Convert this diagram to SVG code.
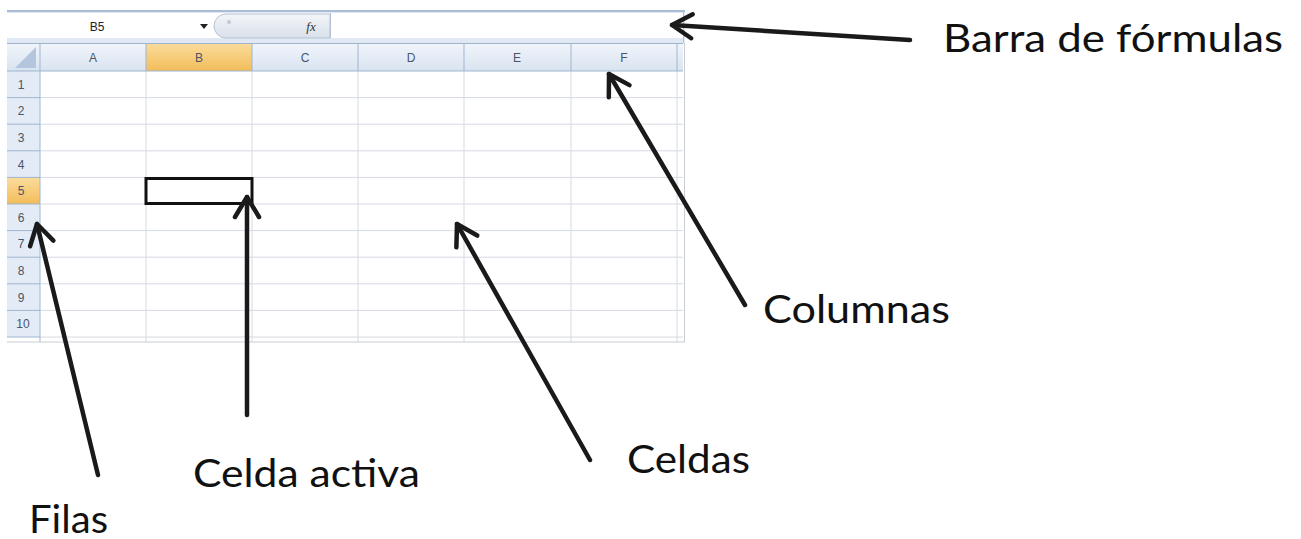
<svg xmlns="http://www.w3.org/2000/svg" width="1301" height="539" viewBox="0 0 1301 539">
<style>
.lbl{font-family:Lato,"Open Sans","Liberation Sans",sans-serif;font-size:39px;fill:#111}
.hd{font-family:"Liberation Sans",Arial,sans-serif;font-size:12px;fill:#4a5566;text-anchor:middle}
.grid{stroke:#d6dae3;stroke-width:1}
.hdb{stroke:#9fb5cf;stroke-width:1}
.arrow{stroke:#1a1a1a;stroke-width:4.5;stroke-linecap:round;fill:none;marker-end:url(#head)}
</style>
<defs>
<marker id="head" markerUnits="userSpaceOnUse" viewBox="-26 -16 30 32" refX="0" refY="0" markerWidth="30" markerHeight="32" orient="auto" overflow="visible">
<path d="M-20,-12 L0,0 L-20,12" fill="none" stroke="#1a1a1a" stroke-width="4.5" stroke-linecap="round" stroke-linejoin="round"/>
</marker>
<linearGradient id="hdrg" x1="0" y1="0" x2="0" y2="1"><stop offset="0" stop-color="#f1f5fb"/><stop offset="1" stop-color="#d9e3f0"/></linearGradient>
<linearGradient id="selg" x1="0" y1="0" x2="0" y2="1"><stop offset="0" stop-color="#fbdc9c"/><stop offset="1" stop-color="#f2bd5a"/></linearGradient>
<linearGradient id="pill" x1="0" y1="0" x2="0" y2="1"><stop offset="0" stop-color="#f3f6fa"/><stop offset="1" stop-color="#d8e0ea"/></linearGradient>
</defs>
<rect width="1301" height="539" fill="#fff"/>
<g id="spreadsheet">
<!-- formula bar -->
<rect x="7" y="10" width="678" height="33" fill="#dfe8f3"/>
<line x1="7" y1="11" x2="685" y2="11" stroke="#a9bed6" stroke-width="2"/>
<rect x="7" y="13" width="676" height="25" fill="#fff"/>
<text x="97" y="31" class="hd" style="fill:#222">B5</text>
<path d="M200,24 L208,24 L204,29 Z" fill="#222"/>
<path d="M226,14 L330,14 L330,38 L226,38 A12,12 0 0 1 226,14 Z" fill="url(#pill)" stroke="#b5c3d4" stroke-width="1"/>
<circle cx="229" cy="22" r="2" fill="#c0c8d2"/>
<text x="311" y="31" style="font-family:'Liberation Serif',serif;font-style:italic;font-size:13px;fill:#333" text-anchor="middle">fx</text>
<line x1="330.5" y1="13" x2="330.5" y2="38" stroke="#b5c3d4"/>
<line x1="683.5" y1="11" x2="683.5" y2="43" stroke="#b5c3d4"/>
<!-- grid body -->
<rect x="7" y="43" width="678" height="299" fill="#fff"/>
<!-- header row -->
<rect x="7" y="43" width="676" height="28" fill="url(#hdrg)"/>
<rect x="146" y="43" width="106" height="28" fill="url(#selg)"/>
<path d="M36,47 L36,68 L15,68 Z" fill="#b3c6de"/>
<!-- row headers -->
<rect x="7" y="71" width="33" height="266" fill="#e3ebf6"/>
<rect x="7" y="177.4" width="33" height="26.6" fill="url(#selg)"/>
<!-- lines -->
<g class="grid">
<line x1="40" y1="97.6" x2="683" y2="97.6"/>
<line x1="40" y1="124.2" x2="683" y2="124.2"/>
<line x1="40" y1="150.8" x2="683" y2="150.8"/>
<line x1="40" y1="177.4" x2="683" y2="177.4"/>
<line x1="40" y1="204" x2="683" y2="204"/>
<line x1="40" y1="230.6" x2="683" y2="230.6"/>
<line x1="40" y1="257.2" x2="683" y2="257.2"/>
<line x1="40" y1="283.8" x2="683" y2="283.8"/>
<line x1="40" y1="310.4" x2="683" y2="310.4"/>
<line x1="40" y1="337" x2="683" y2="337"/>
<line x1="146" y1="71" x2="146" y2="342"/>
<line x1="252" y1="71" x2="252" y2="342"/>
<line x1="358" y1="71" x2="358" y2="342"/>
<line x1="464" y1="71" x2="464" y2="342"/>
<line x1="571" y1="71" x2="571" y2="342"/>
<line x1="677" y1="71" x2="677" y2="342"/>
</g>
<g class="hdb">
<line x1="7" y1="43.5" x2="683" y2="43.5"/>
<line x1="7" y1="71" x2="683" y2="71"/>
<line x1="40" y1="43" x2="40" y2="342"/>
<line x1="146" y1="43" x2="146" y2="71"/>
<line x1="252" y1="43" x2="252" y2="71"/>
<line x1="358" y1="43" x2="358" y2="71"/>
<line x1="464" y1="43" x2="464" y2="71"/>
<line x1="571" y1="43" x2="571" y2="71"/>
<line x1="677" y1="43" x2="677" y2="71"/>
<line x1="7" y1="97.6" x2="40" y2="97.6"/>
<line x1="7" y1="124.2" x2="40" y2="124.2"/>
<line x1="7" y1="150.8" x2="40" y2="150.8"/>
<line x1="7" y1="177.4" x2="40" y2="177.4"/>
<line x1="7" y1="204" x2="40" y2="204"/>
<line x1="7" y1="230.6" x2="40" y2="230.6"/>
<line x1="7" y1="257.2" x2="40" y2="257.2"/>
<line x1="7" y1="283.8" x2="40" y2="283.8"/>
<line x1="7" y1="310.4" x2="40" y2="310.4"/>
<line x1="7" y1="337" x2="40" y2="337"/>
</g>
<line x1="7" y1="342" x2="685" y2="342" stroke="#c8ccd2"/>
<line x1="684.5" y1="43" x2="684.5" y2="342" stroke="#c8ccd2"/>
<text x="93" y="62" class="hd">A</text>
<text x="199" y="62" class="hd">B</text>
<text x="305" y="62" class="hd">C</text>
<text x="411" y="62" class="hd">D</text>
<text x="517" y="62" class="hd">E</text>
<text x="624" y="62" class="hd">F</text>
<text x="21" y="89" class="hd">1</text>
<text x="21" y="115" class="hd">2</text>
<text x="21" y="142" class="hd">3</text>
<text x="21" y="169" class="hd">4</text>
<text x="21" y="195" class="hd">5</text>
<text x="21" y="222" class="hd">6</text>
<text x="21" y="248" class="hd">7</text>
<text x="21" y="275" class="hd">8</text>
<text x="21" y="302" class="hd">9</text>
<text x="23" y="328" class="hd">10</text>
<rect id="active-cell" x="146" y="178.5" width="106" height="25" fill="none" stroke="#111" stroke-width="3"/>
</g>
<g id="connectors">
<path class="arrow" d="M910,40 L672,25"/>
<path class="arrow" d="M745,305 L609,74"/>
<path class="arrow" d="M590,460 L457,224"/>
<path class="arrow" d="M247,415 L247,197"/>
<path class="arrow" d="M98,475 L37,224"/>
</g>
<g id="node-barra"><text class="lbl" x="943" y="52" textLength="340" lengthAdjust="spacingAndGlyphs">Barra de fórmulas</text></g>
<g id="node-columnas"><text class="lbl" x="763" y="323" textLength="187" lengthAdjust="spacingAndGlyphs">Columnas</text></g>
<g id="node-celdas"><text class="lbl" x="627" y="473" textLength="123" lengthAdjust="spacingAndGlyphs">Celdas</text></g>
<g id="node-celda-activa"><text class="lbl" x="193" y="487" textLength="227" lengthAdjust="spacingAndGlyphs">Celda activa</text></g>
<g id="node-filas"><text class="lbl" x="29" y="533" textLength="79" lengthAdjust="spacingAndGlyphs">Filas</text></g>
</svg>
